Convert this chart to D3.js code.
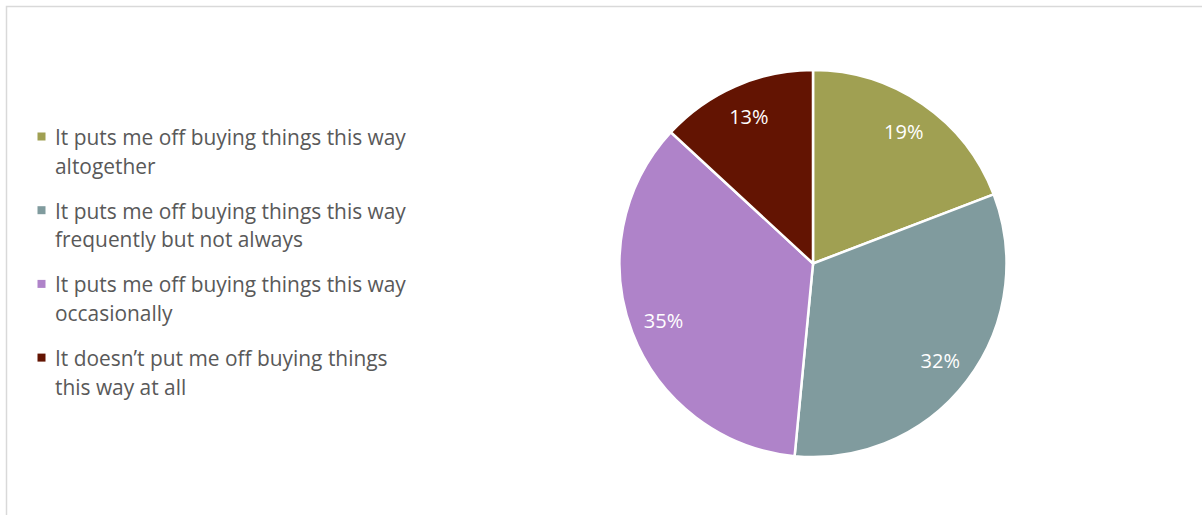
<!DOCTYPE html>
<html>
<head>
<meta charset="utf-8">
<script src="https://cdn.jsdelivr.net/npm/d3@7"></script>
<style>
  html, body { margin: 0; padding: 0; background: #fff; overflow: hidden; }
  svg { display: block; }
</style>
</head>
<body>
<svg id="chart" width="1202" height="515"></svg>
<script>
// Survey responses: how delivery charges affect buying this way
const categories = [
  "It puts me off buying things this way altogether",
  "It puts me off buying things this way frequently but not always",
  "It puts me off buying things this way occasionally",
  "It doesn\u2019t put me off buying things this way at all"
];
const shares = [19, 32, 35, 13];
const sliceColors = ["#A0A052", "#809B9E", "#AF83C9", "#631402"];

const W = 1202, H = 515;
const svg = d3.select("#chart");
const font = "'Open Sans', 'Noto Sans', 'DejaVu Sans', sans-serif";

// Chart area frame (extends past the right and bottom edges)
svg.append("rect")
  .attr("x", 6.5).attr("y", 6.5)
  .attr("width", 1400).attr("height", 700)
  .attr("fill", "#fff")
  .attr("stroke", "#D9D9D9")
  .attr("stroke-width", 1.5);

// Pie
const cx = 813, cy = 263.5, r = 193.5;
const pie = d3.pie().sort(null).value(d => d);
const arcs = pie(shares);
const arc = d3.arc().innerRadius(0).outerRadius(r);
const labelArc = d3.arc().innerRadius(160).outerRadius(160);
const color = d3.scaleOrdinal().domain(d3.range(shares.length)).range(sliceColors);

const g = svg.append("g").attr("transform", `translate(${cx},${cy})`);
g.selectAll("path.slice")
  .data(arcs)
  .join("path")
  .attr("class", "slice")
  .attr("d", arc)
  .attr("fill", (d, i) => color(i))
  .attr("stroke", "#fff")
  .attr("stroke-width", 2.5)
  .attr("stroke-linejoin", "miter");

g.selectAll("text.pct")
  .data(arcs)
  .join("text")
  .attr("class", "pct")
  .attr("transform", d => `translate(${labelArc.centroid(d)})`)
  .attr("text-anchor", "middle")
  .attr("dy", "0.36em")
  .attr("fill", "#fff")
  .style("font-family", font)
  .style("font-size", "20px")
  .text(d => d.data + "%");

// Legend with wrapped labels
const legendX = 55, legendTop = 145, itemGap = 73.7, lineGap = 28.7, maxW = 362;
const legend = svg.append("g");
categories.forEach((label, i) => {
  const y0 = legendTop + i * itemGap;
  legend.append("rect")
    .attr("x", 37.5).attr("y", y0 - 12.5)
    .attr("width", 8).attr("height", 8)
    .attr("fill", color(i));
  const t = legend.append("text")
    .attr("x", legendX).attr("y", y0)
    .attr("fill", "#595959")
    .style("font-family", font)
    .style("font-size", "20.9px");
  const words = label.split(" ");
  let line = [], lineNo = 0;
  let tspan = t.append("tspan").attr("x", legendX).attr("y", y0);
  words.forEach(w => {
    line.push(w);
    tspan.text(line.join(" "));
    if (tspan.node().getComputedTextLength() > maxW && line.length > 1) {
      line.pop();
      tspan.text(line.join(" "));
      line = [w];
      lineNo += 1;
      tspan = t.append("tspan").attr("x", legendX).attr("y", y0 + lineNo * lineGap).text(w);
    }
  });
});
</script>
</body>
</html>
